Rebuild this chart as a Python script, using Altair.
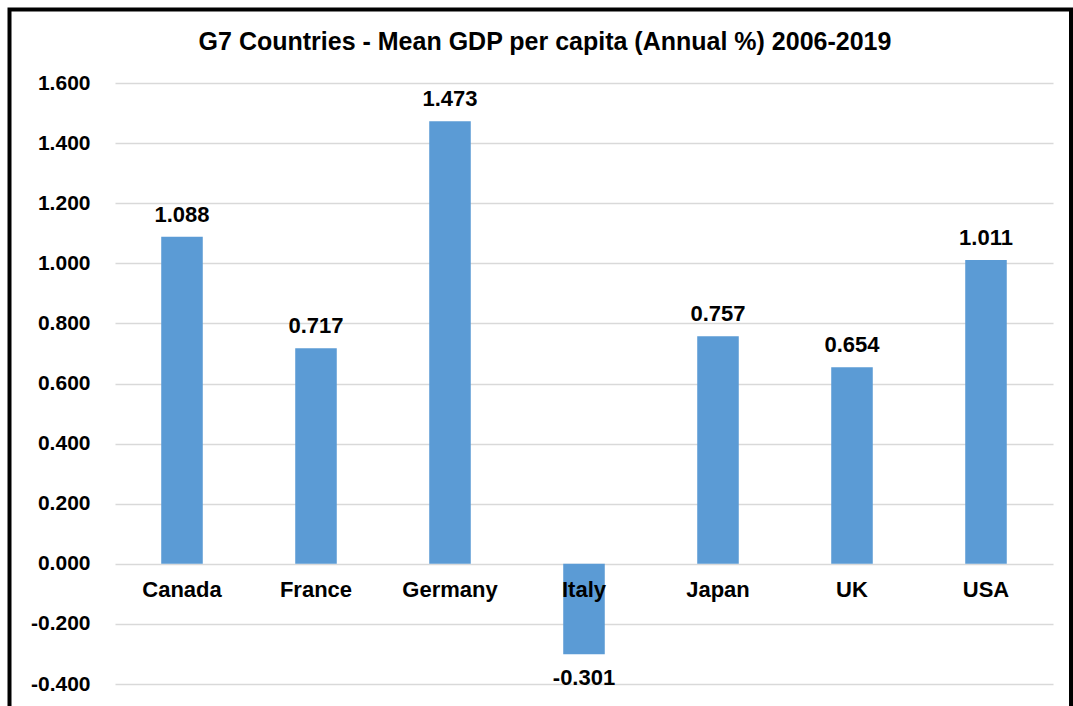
import altair as alt
import pandas as pd

countries = ["Canada", "France", "Germany", "Italy", "Japan", "UK", "USA"]
values = [1.088, 0.717, 1.473, -0.301, 0.757, 0.654, 1.011]
y_ticks = [-0.4, -0.2, 0.0, 0.2, 0.4, 0.6, 0.8, 1.0, 1.2, 1.4, 1.6]
title_text = "G7 Countries - Mean GDP per capita (Annual %) 2006-2019"

df = pd.DataFrame({"country": countries, "value": values})
df["zero"] = 0.0

FONT = "Liberation Sans"

x_enc = alt.X("country:N", sort=countries,
              scale=alt.Scale(paddingInner=0.69, paddingOuter=0.345),
              axis=None)

base = alt.Chart(df)

bars = base.mark_bar(color="#5b9bd5").encode(
    x=x_enc,
    y=alt.Y("value:Q",
            scale=alt.Scale(domain=[-0.4, 1.6], nice=False, zero=False),
            axis=alt.Axis(values=y_ticks, format=".3f", title=None,
                          domain=False, ticks=False, labelPadding=25,
                          labelExpr="replace(datum.label, '\u2212', '-')",
                          labelFont=FONT, labelFontSize=21, labelFontWeight="bold",
                          labelColor="black", gridColor="#d9d9d9", gridWidth=1.5)),
)

label_text = "replace(format(datum.value, '.3f'), '\u2212', '-')"

pos_labels = base.transform_filter("datum.value >= 0").transform_calculate(
    lbl=label_text
).mark_text(
    font=FONT, fontSize=22, fontWeight="bold", color="black",
    baseline="middle", dy=-22
).encode(x=x_enc, y="value:Q", text="lbl:N")

neg_labels = base.transform_filter("datum.value < 0").transform_calculate(
    lbl=label_text
).mark_text(
    font=FONT, fontSize=22, fontWeight="bold", color="black",
    baseline="middle", dy=24
).encode(x=x_enc, y="value:Q", text="lbl:N")

cat_labels = base.mark_text(
    font=FONT, fontSize=22, fontWeight="bold", color="black",
    baseline="middle", dy=26
).encode(x=x_enc, y="zero:Q", text="country:N")

one = pd.DataFrame({"t": [title_text]})

title = alt.Chart(one).mark_text(
    font=FONT, fontSize=25, fontWeight="bold", color="black",
    baseline="middle", align="center"
).encode(x=alt.value(430), y=alt.value(-41), text="t:N")

border = alt.Chart(one).mark_rect(
    fill="transparent", stroke="black", strokeWidth=4
).encode(x=alt.value(-105.5), x2=alt.value(956), y=alt.value(-73.5), y2=alt.value(700))

chart = alt.layer(bars, pos_labels, neg_labels, cat_labels, title, border).properties(
    width=938, height=601,
    background="white",
    autosize=alt.AutoSizeParams(type="none"),
    padding={"left": 115, "top": 83, "right": 20, "bottom": 22},
).configure_view(stroke="transparent", strokeWidth=0)

chart.save("out.html", embed_options={"renderer": "svg", "actions": False})
